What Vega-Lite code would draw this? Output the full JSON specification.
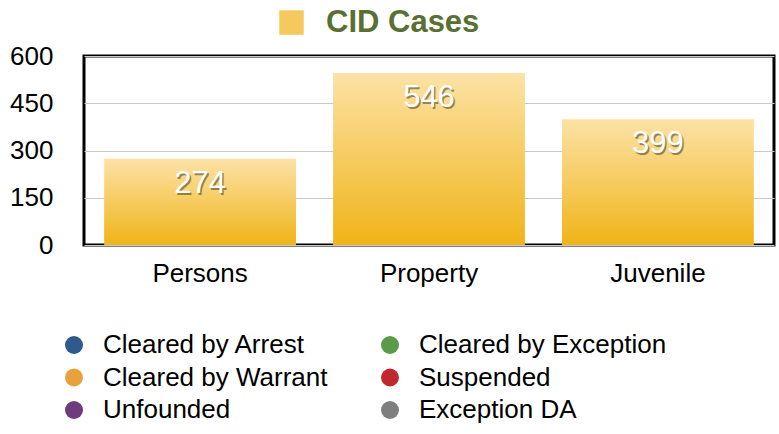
{
  "$schema": "https://vega.github.io/schema/vega-lite/v6.json",
  "autosize": "none",
  "width": 690,
  "height": 189,
  "padding": {"left": 84, "top": 56, "right": 5, "bottom": 189},
  "background": "white",
  "config": {
    "font": "Liberation Sans",
    "view": {"stroke": "black", "strokeWidth": 3},
    "legend": {"padding": 0, "titlePadding": 0}
  },
  "datasets": {
    "bars": [
      {"category": "Persons", "value": 274},
      {"category": "Property", "value": 546},
      {"category": "Juvenile", "value": 399}
    ],
    "series": [{"series": "CID Cases"}],
    "statuses": [
      {"status": "Cleared by Arrest"},
      {"status": "Cleared by Exception"},
      {"status": "Cleared by Warrant"},
      {"status": "Suspended"},
      {"status": "Unfounded"},
      {"status": "Exception DA"}
    ]
  },
  "layer": [
    {
      "data": {"name": "bars"},
      "mark": {
        "type": "bar",
        "color": {
          "gradient": "linear", "x1": 0, "y1": 0, "x2": 0, "y2": 1,
          "stops": [{"offset": 0, "color": "#fce2a6"}, {"offset": 1, "color": "#f0b418"}]
        }
      },
      "encoding": {
        "x": {
          "field": "category", "type": "nominal", "sort": null,
          "scale": {"paddingInner": 0.162, "paddingOuter": 0.088},
          "axis": {"title": null, "labelAngle": 0, "labelFontSize": 26, "labelColor": "black", "ticks": false, "domain": false, "labelPadding": 15, "grid": false}
        },
        "y": {
          "field": "value", "type": "quantitative",
          "scale": {"domain": [0, 600]},
          "axis": {"title": null, "values": [0, 150, 300, 450, 600], "labelFontSize": 26, "labelColor": "black", "ticks": false, "domain": false, "labelPadding": 31, "gridColor": "#c8c8c8", "gridWidth": 1}
        }
      }
    },
    {
      "data": {"name": "bars"},
      "mark": {"type": "text", "fontSize": 31, "baseline": "middle", "dy": 27, "dx": 1.5, "color": "#3a2e10", "opacity": 0.5},
      "encoding": {
        "x": {"field": "category", "type": "nominal", "sort": null},
        "y": {"field": "value", "type": "quantitative"},
        "text": {"field": "value", "type": "quantitative"}
      }
    },
    {
      "data": {"name": "bars"},
      "mark": {"type": "text", "fontSize": 31, "baseline": "middle", "dy": 25, "color": "white"},
      "encoding": {
        "x": {"field": "category", "type": "nominal", "sort": null},
        "y": {"field": "value", "type": "quantitative"},
        "text": {"field": "value", "type": "quantitative"}
      }
    },
    {
      "data": {"name": "series"},
      "mark": {"type": "point", "filled": true, "opacity": 0},
      "encoding": {
        "fill": {
          "field": "series", "type": "nominal",
          "scale": {"range": ["#f6c95c"]},
          "legend": {
            "title": null, "orient": "none", "legendX": 192, "legendY": -49,
            "symbolType": "square", "symbolSize": 600, "symbolOpacity": 1, "symbolStrokeWidth": 0,
            "labelFontSize": 31, "labelFontWeight": "bold", "labelColor": "#5a7033", "labelOffset": 19
          }
        }
      }
    },
    {
      "data": {"name": "statuses"},
      "mark": {"type": "point", "filled": true, "opacity": 0},
      "encoding": {
        "color": {
          "field": "status", "type": "nominal",
          "scale": {
            "domain": ["Cleared by Arrest", "Cleared by Warrant", "Unfounded", "Cleared by Exception", "Suspended", "Exception DA"],
            "range": ["#2e5a8c", "#e9a23b", "#6e3b7d", "#5b9a48", "#c0282e", "#7f7f7f"]
          },
          "legend": {
            "title": null, "orient": "none", "legendX": -23, "legendY": 276,
            "columns": 2, "columnPadding": 49, "rowPadding": 6.5,
            "symbolType": "circle", "symbolSize": 324, "symbolOpacity": 1, "symbolStrokeWidth": 0,
            "labelFontSize": 26, "labelColor": "black", "labelOffset": 16, "labelLimit": 400
          }
        }
      }
    }
  ]
}
